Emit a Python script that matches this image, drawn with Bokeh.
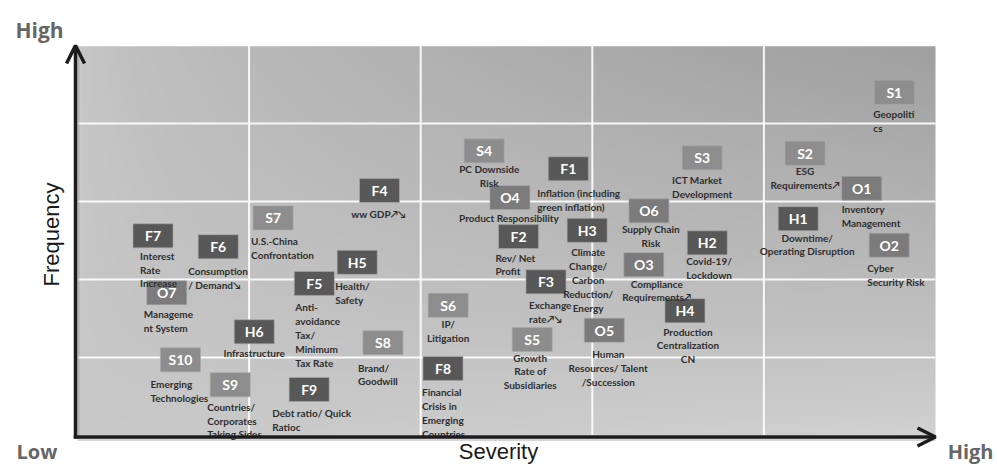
import numpy as np
from bokeh.plotting import figure
from bokeh.models import Range1d, ColumnDataSource, Arrow, OpenHead
from bokeh.core.properties import value
from bokeh.embed import file_html
from bokeh.resources import INLINE

# ---------------- data ----------------
codes = ["S1", "S2", "S3", "S4", "S5", "S6", "S7", "S8", "S9", "S10",
         "F1", "F2", "F3", "F4", "F5", "F6", "F7", "F8", "F9",
         "H1", "H2", "H3", "H4", "H5", "H6",
         "O1", "O2", "O3", "O4", "O5", "O6", "O7"]
severity = [4.76, 4.24, 3.64, 2.37, 2.65, 2.16, 1.14, 1.78, 0.89, 0.60,
            2.86, 2.57, 2.73, 1.76, 1.38, 0.82, 0.44, 2.13, 1.35,
            4.20, 3.67, 2.97, 3.54, 1.63, 1.03,
            4.57, 4.73, 3.30, 2.52, 3.07, 3.33, 0.52]
frequency = [4.40, 3.62, 3.56, 3.65, 1.23, 1.67, 2.79, 1.19, 0.65, 0.97,
             3.42, 2.55, 1.97, 3.14, 1.95, 2.42, 2.56, 0.86, 0.59,
             2.78, 2.47, 2.63, 1.60, 2.22, 1.33,
             3.17, 2.44, 2.19, 3.05, 1.35, 2.88, 1.83]
descriptions = [
    "Geopoliti\ncs", "ESG\nRequirements\u2197", "ICT Market\nDevelopment",
    "PC Downside\nRisk", "Growth\nRate of\nSubsidiaries", "IP/\nLitigation",
    "U.S.-China\nConfrontation", "Brand/\nGoodwill",
    "Countries/\nCorporates\nTaking Sides", "Emerging\nTechnologies",
    "Inflation (including\ngreen inflation)", "Rev/ Net\nProfit",
    "Exchange\nrate\u2197\u2198", "ww GDP\u2197\u2198",
    "Anti-\navoidance\nTax/\nMinimum\nTax Rate", "Consumption\n/ Demand\u2198",
    "Interest\nRate\nIncrease", "Financial\nCrisis in\nEmerging\nCountries",
    "Debt ratio/ Quick\nRatioc",
    "Downtime/\nOperating Disruption", "Covid-19/\nLockdown",
    "Climate\nChange/\nCarbon\nReduction/\nEnergy",
    "Production\nCentralization\nCN", "Health/\nSafety", "Infrastructure",
    "Inventory\nManagement", "Cyber\nSecurity Risk",
    "Compliance\nRequirements\u2197", "Product Responsibility",
    "Human\nResources/ Talent\n/Succession", "Supply Chain\nRisk",
    "Manageme\nnt System"]
grid_steps = [1, 2, 3, 4]
axis_max = 5

# ---------------- label layout (style) ----------------
label_align = ["left", "center", "left", "center", "center", "center", "left", "left", "left", "left",
               "left", "left", "left", "center", "left", "left", "left", "left", "left",
               "center", "left", "center", "center", "left", "center",
               "left", "left", "center", "center", "center", "center", "left"]
label_dx = [-21, 0, -30, 5, -2, 0, -22, -25, -23, -30,
            -31, -23, -17, -1, -19, -30, -13, -21, -37,
            9, -21, 1, 3, -22, 0,
            -20, -22, 13, -1, 4, 2, -23]
label_dy = [22, 18, 22, 18, 18, 19, 23, 25, 22, 24,
            24, 21, 23, 23, 24, 24, 20, 24, 24,
            19, 18, 22, 21, 24, 21,
            21, 23, 19, 20, 24, 18, 21]

cat_colors = {"S": "#8d8d8d", "O": "#7b7b7b", "F": "#585858", "H": "#585858"}
colors = [cat_colors[c[0]] for c in codes]

# ---------------- geometry ----------------
W, H = 997, 466
PXX, PXY = 171.6, 78.0
CX0, CY0 = 77.0, 435.0   # canvas pixel of data origin

def px2x(px):
    return (px - CX0) / PXX

def py2y(py):
    return (CY0 - py) / PXY

p = figure(width=W, height=H,
           x_range=Range1d(-CX0 / PXX, (W - CX0) / PXX),
           y_range=Range1d(-(H - CY0) / PXY, CY0 / PXY),
           min_border=0, toolbar_location=None, output_backend="svg",
           x_axis_location=None, y_axis_location=None,
           outline_line_color=None, background_fill_color="white",
           border_fill_color="white")
p.grid.visible = False

# gradient background
nx, ny = 240, 200
gx = np.linspace(0, 1, nx)
gy = np.linspace(0, 1, ny)
X, Y = np.meshgrid(gx, gy)
v = 200 + 10 * X * (1 - Y) - 40 * (X ** 0.6) * (Y ** 0.8)
v = np.clip(v, 0, 255).astype(np.uint8)
img = np.empty((ny, nx), dtype=np.uint32)
view = img.view(dtype=np.uint8).reshape((ny, nx, 4))
view[:, :, 0] = v
view[:, :, 1] = v
view[:, :, 2] = v
view[:, :, 3] = 255
p.image_rgba(image=[img], x=0, y=0, dw=axis_max, dh=axis_max)

# white grid lines
p.segment(x0=grid_steps, y0=[0] * 4, x1=grid_steps, y1=[axis_max] * 4,
          line_color="white", line_width=2, line_alpha=0.9)
p.segment(x0=[0] * 4, y0=grid_steps, x1=[axis_max] * 4, y1=grid_steps,
          line_color="white", line_width=2, line_alpha=0.9)
p.segment(x0=[0], y0=[axis_max], x1=[axis_max], y1=[axis_max],
          line_color="white", line_width=1.5)

# axes with shadow
ax_x = px2x(75)
ax_y = py2y(436.5)
p.segment(x0=[ax_x + 2 / PXX, ax_x + 2 / PXX], y0=[ax_y - 2 / PXY, ax_y - 2 / PXY],
          x1=[ax_x + 2 / PXX, axis_max], y1=[axis_max - 0.05, ax_y - 2 / PXY],
          line_color="#888888", line_width=4, line_alpha=0.35)
p.add_layout(Arrow(end=OpenHead(size=18, line_width=3.5, line_color="#1c1c1c"),
                   x_start=ax_x, y_start=ax_y - 0.02, x_end=ax_x, y_end=axis_max,
                   line_width=3.5, line_color="#1c1c1c"))
p.add_layout(Arrow(end=OpenHead(size=18, line_width=3.5, line_color="#1c1c1c"),
                   x_start=ax_x - 0.01, y_start=ax_y, x_end=axis_max, y_end=ax_y,
                   line_width=3.5, line_color="#1c1c1c"))

# boxes
src = ColumnDataSource(dict(x=severity, y=frequency, code=codes, color=colors))
p.rect(x="x", y="y", width=40, height=24, width_units="screen", height_units="screen",
       source=src, fill_color="color", line_color="#a8a8a8", line_width=1, line_alpha=0.6)
p.text(x="x", y="y", text="code", source=src, text_align="center", text_baseline="middle",
       text_color="white", text_font=value("Lato"), text_font_style="bold",
       text_font_size="14px")

for al in ["left", "center"]:
    idx = [i for i, a in enumerate(label_align) if a == al]
    s = ColumnDataSource(dict(x=[severity[i] for i in idx], y=[frequency[i] for i in idx],
                              desc=[descriptions[i] for i in idx],
                              dx=[label_dx[i] for i in idx],
                              dy=[label_dy[i] - 6 for i in idx]))
    p.text(x="x", y="y", text="desc", source=s, x_offset="dx", y_offset="dy",
           text_align=al, text_baseline="top", text_color="#2e2e2e",
           text_font=value("Lato"), text_font_style="bold", text_font_size="10px",
           text_line_height=1.15)

# axis annotations (alphabetic baseline renders ~8px low in svg; compensated)
p.text(x=[px2x(15)], y=[py2y(29)], text=["High"], text_align="left",
       text_baseline="alphabetic", text_color="#666666", text_font=value("Open Sans"),
       text_font_style="bold", text_font_size="21px")
p.text(x=[px2x(16)], y=[py2y(451)], text=["Low"], text_align="left",
       text_baseline="alphabetic", text_color="#666666", text_font=value("Open Sans"),
       text_font_style="bold", text_font_size="20px")
p.text(x=[px2x(993)], y=[py2y(451)], text=["High"], text_align="right",
       text_baseline="alphabetic", text_color="#666666", text_font=value("Open Sans"),
       text_font_style="bold", text_font_size="20px")
p.text(x=[px2x(51)], y=[py2y(234)], text=["Frequency"], angle=np.pi / 2,
       text_align="center", text_baseline="middle", text_color="#1a1a1a",
       text_font=value("Liberation Sans"), text_font_size="22px")
p.text(x=[px2x(498)], y=[py2y(451)], text=["Severity"], text_align="center",
       text_baseline="alphabetic", text_color="#1a1a1a",
       text_font=value("Liberation Sans"), text_font_size="22px")

open("out.html", "w").write(file_html(p, INLINE))
